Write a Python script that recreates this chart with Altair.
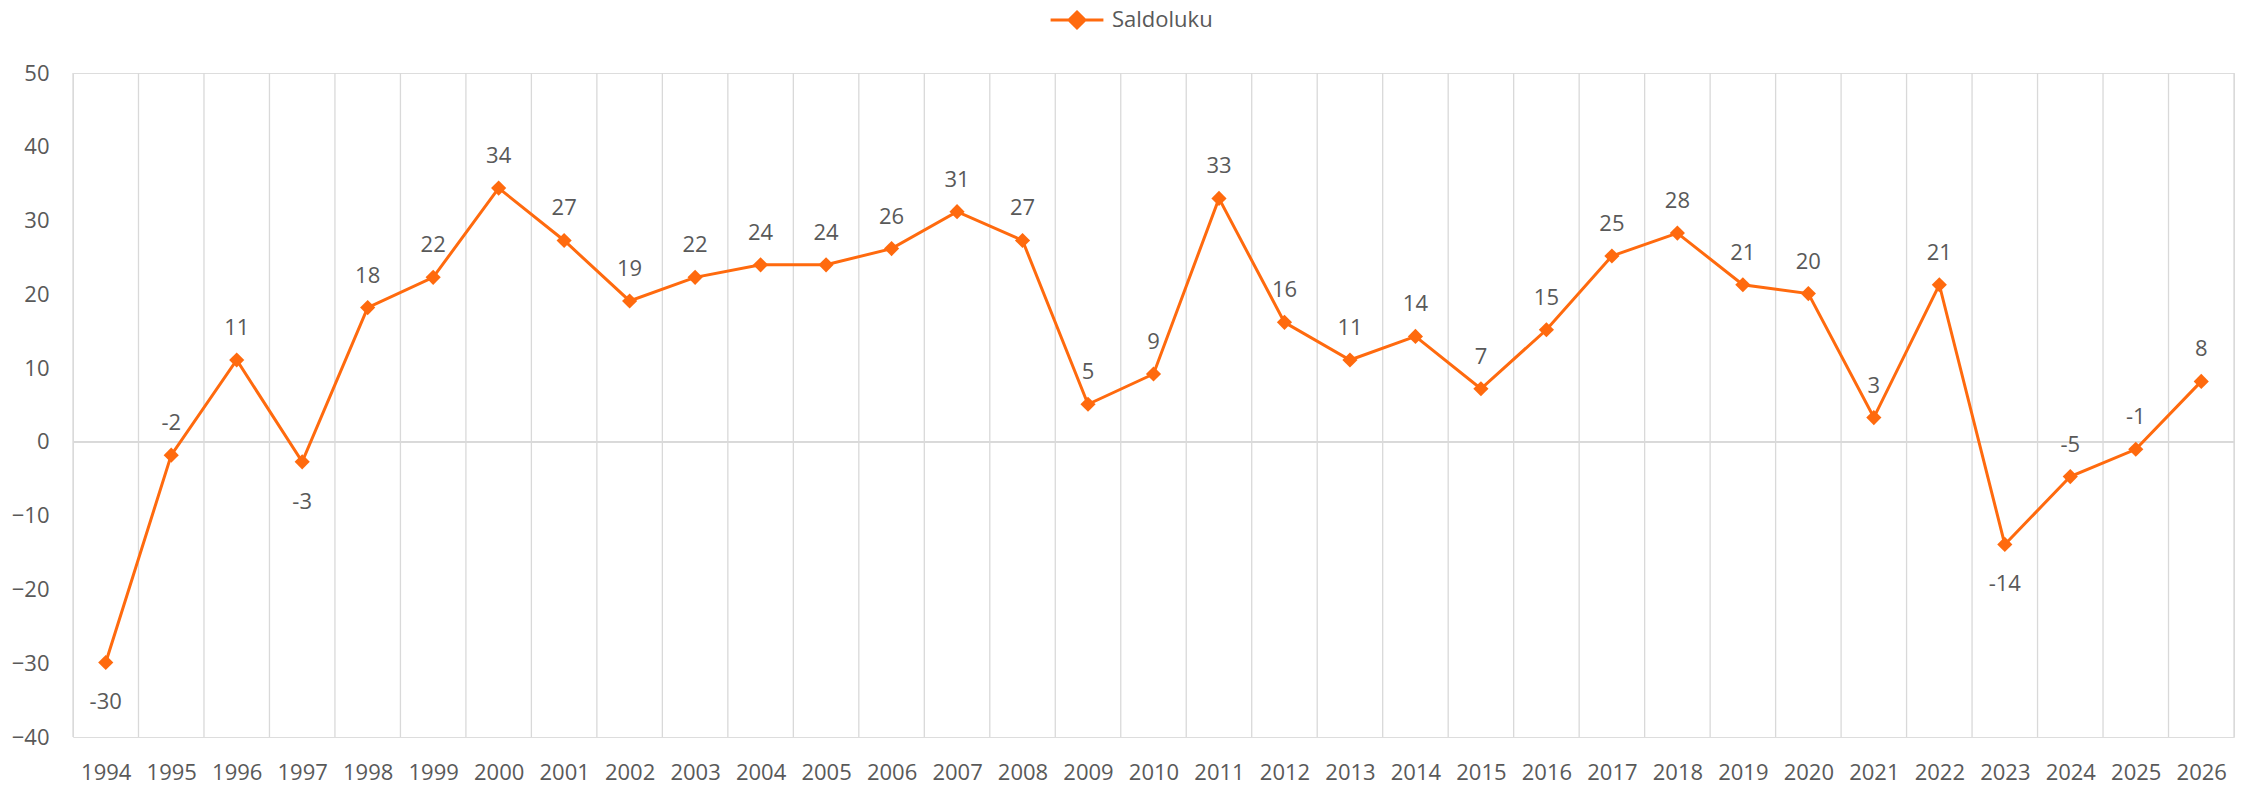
import altair as alt
import pandas as pd

years = list(range(1994, 2027))
values = [-29.9, -1.8, 11.1, -2.7, 18.2, 22.3, 34.4, 27.3, 19.1, 22.3,
          24.0, 24.0, 26.2, 31.2, 27.3, 5.1, 9.2, 33.0, 16.2, 11.1,
          14.3, 7.2, 15.2, 25.2, 28.3, 21.3, 20.1, 3.3, 21.3, -13.9,
          -4.7, -1.0, 8.2]
labels_below = [1994, 1997, 2023]
series_name = "Saldoluku"

ORANGE = "#FF6A0E"
TEXT = "#595959"
GRID = "#D9D9D9"
FONT = "Open Sans"
FS = 22

df = pd.DataFrame({
    "year": years,
    "value": values,
    "label": [str(int(round(v))) for v in values],
    "pos": ["below" if y in labels_below else "above" for y in years],
    "series": [series_name] * len(years),
})
bounds = pd.DataFrame({"b": [y - 0.5 for y in years] + [years[-1] + 0.5]})

xscale = alt.Scale(domain=[years[0] - 0.5, years[-1] + 0.5], nice=False, zero=False)
yscale = alt.Scale(domain=[-40, 50], nice=False)

xaxis = alt.Axis(values=years, format="d", title=None, grid=False,
                 ticks=False, domain=False, labelFont=FONT,
                 labelFontSize=FS, labelColor=TEXT, labelPadding=25,
                 labelFlush=False, labelOverlap=False)
yaxis = alt.Axis(values=list(range(-40, 51, 10)), title=None, grid=False,
                 ticks=False, domain=False, labelFont=FONT,
                 labelFontSize=FS, labelColor=TEXT, labelPadding=24)

grid = alt.Chart(bounds).mark_rule(color=GRID, strokeWidth=1.3).encode(
    x=alt.X("b:Q", scale=xscale, axis=xaxis),
    y=alt.datum(50, scale=yscale, axis=yaxis),
    y2=alt.datum(-40),
)

zero = alt.Chart(bounds).mark_rule(color=GRID, strokeWidth=1.3).encode(
    x=alt.datum(years[0] - 0.5, scale=xscale),
    x2=alt.datum(years[-1] + 0.5),
    y=alt.datum(0, scale=yscale),
)

legend_path = "M-3.05,0 L3.05,0 M0,-0.92 L0.92,0 L0,0.92 L-0.92,0 Z"

base = alt.Chart(df)
line = base.mark_line(strokeWidth=3).encode(
    x=alt.X("year:Q", scale=xscale),
    y=alt.Y("value:Q", scale=yscale),
    color=alt.Color("series:N", scale=alt.Scale(range=[ORANGE]),
                    legend=alt.Legend(title=None, orient="none", legendX=993,
                                      legendY=-64, symbolType=legend_path,
                                      symbolSize=300, symbolStrokeWidth=3,
                                      symbolFillColor=ORANGE,
                                      symbolStrokeColor=ORANGE,
                                      labelFont=FONT, labelFontSize=FS,
                                      labelColor=TEXT, labelOffset=24)),
)
points = base.mark_point(shape="diamond", size=230, filled=True, opacity=1,
                         color=ORANGE).encode(
    x=alt.X("year:Q", scale=xscale),
    y=alt.Y("value:Q", scale=yscale),
)
text_above = base.transform_filter(alt.datum.pos == "above").mark_text(
    dy=-32, font=FONT, fontSize=FS, color=TEXT).encode(
    x=alt.X("year:Q", scale=xscale),
    y=alt.Y("value:Q", scale=yscale),
    text="label:N",
)
text_below = base.transform_filter(alt.datum.pos == "below").mark_text(
    dy=40, font=FONT, fontSize=FS, color=TEXT).encode(
    x=alt.X("year:Q", scale=xscale),
    y=alt.Y("value:Q", scale=yscale),
    text="label:N",
)

chart = alt.layer(grid, zero, line, points, text_above, text_below).properties(
    width=2161, height=664,
    autosize=alt.AutoSizeParams(type="none"),
    padding={"left": 73, "top": 73, "right": 23, "bottom": 48},
).configure_view(stroke=None).configure(background="white")

chart.save("out.html", embed_options={"renderer": "svg", "actions": False})
